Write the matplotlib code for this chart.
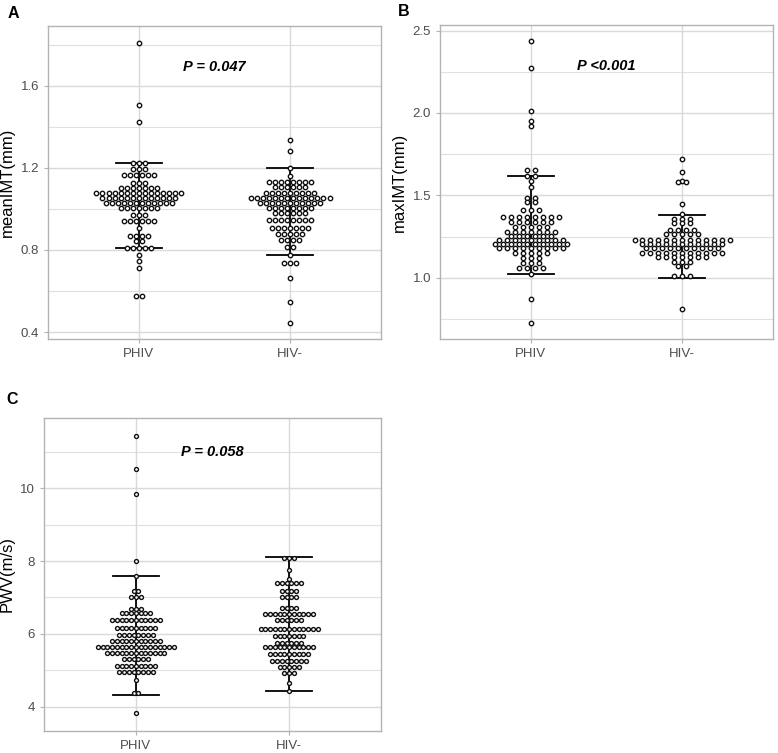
import numpy as np
import matplotlib.pyplot as plt

plt.rcParams["font.family"] = ["Liberation Sans", "DejaVu Sans"]

GROUPS = ["PHIV", "HIV-"]

# Panel A: meanIMT, dot rows (value, number of dots in the row)
A_PHIV_VALUES = [1.81, 1.507, 1.421, 1.223, 1.193, 1.167, 1.128, 1.102, 1.078, 1.054,
                 1.029, 1.005, 0.972, 0.943, 0.906, 0.870, 0.842, 0.811, 0.776, 0.748,
                 0.711, 0.576]
A_PHIV_COUNTS = [1, 1, 1, 3, 3, 6, 3, 7, 15, 13, 12, 7, 3, 6, 1, 4, 2, 5, 1, 1, 1, 2]
A_HIV_VALUES = [1.337, 1.281, 1.2, 1.159, 1.133, 1.106, 1.078, 1.054, 1.029, 1.005,
                0.979, 0.948, 0.907, 0.878, 0.849, 0.813, 0.777, 0.735, 0.663, 0.548, 0.444]
A_HIV_COUNTS = [1, 1, 1, 1, 8, 6, 9, 14, 11, 8, 6, 8, 7, 5, 4, 2, 1, 3, 1, 1, 1]
A_BARS = [(0.811, 1.223), (0.777, 1.2)]

# Panel B: maxIMT
B_PHIV_VALUES = [2.435, 2.275, 2.014, 1.953, 1.921, 1.654, 1.619, 1.587, 1.549, 1.482,
                 1.46, 1.411, 1.37, 1.34, 1.31, 1.279, 1.253, 1.229, 1.202, 1.178,
                 1.148, 1.117, 1.087, 1.057, 1.022, 0.87, 0.725]
B_PHIV_COUNTS = [1, 1, 1, 1, 1, 2, 2, 1, 1, 2, 2, 3, 8, 6, 5, 7, 6, 9, 10, 9, 5, 3, 3,
                 4, 1, 1, 1]
B_HIV_VALUES = [1.721, 1.64, 1.59, 1.578, 1.445, 1.387, 1.356, 1.33, 1.289, 1.263,
                1.229, 1.204, 1.178, 1.148, 1.123, 1.097, 1.071, 1.01, 0.81]
B_HIV_COUNTS = [1, 1, 1, 2, 1, 1, 3, 3, 4, 5, 13, 11, 10, 11, 7, 3, 2, 3, 1]
B_BARS = [(1.022, 1.62), (1.0, 1.38)]

# Panel C: PWV
C_PHIV_VALUES = [11.43, 10.52, 9.84, 8.01, 7.59, 7.19, 7.01, 6.68, 6.57, 6.38, 6.17,
                 5.97, 5.81, 5.65, 5.47, 5.30, 5.13, 4.97, 4.74, 4.39, 3.82]
C_PHIV_COUNTS = [1, 1, 1, 1, 1, 2, 3, 3, 7, 11, 9, 8, 11, 17, 13, 6, 9, 8, 1, 2, 1]
C_HIV_VALUES = [8.09, 7.74, 7.50, 7.39, 7.19, 7.01, 6.70, 6.54, 6.38, 6.13, 5.95, 5.76,
                5.63, 5.44, 5.27, 5.10, 4.92, 4.66, 4.44]
C_HIV_COUNTS = [3, 1, 1, 6, 4, 4, 4, 11, 6, 13, 7, 6, 11, 9, 8, 5, 3, 1, 1]
C_BARS = [(4.34, 7.59), (4.43, 8.11)]

PANELS = [
    dict(letter="A", ylabel="meanIMT(mm)", ptext="P = 0.047", py=1.69,
         ylim=(0.366, 1.891), major=[0.4, 0.8, 1.2, 1.6], minor=[0.6, 1.0, 1.4, 1.8],
         fmt="{:.1f}", rows=[(A_PHIV_VALUES, A_PHIV_COUNTS), (A_HIV_VALUES, A_HIV_COUNTS)],
         bars=A_BARS, pitch=0.040, ms=10,
         rect=[48, 26, 381, 339], lpos=(8, 13)),
    dict(letter="B", ylabel="maxIMT(mm)", ptext="P <0.001", py=2.287,
         ylim=(0.628, 2.534), major=[1.0, 1.5, 2.0, 2.5], minor=[0.75, 1.25, 1.75, 2.25],
         fmt="{:.1f}", rows=[(B_PHIV_VALUES, B_PHIV_COUNTS), (B_HIV_VALUES, B_HIV_COUNTS)],
         bars=B_BARS, pitch=0.0525, ms=10,
         rect=[440, 25, 773, 339], lpos=(398, 11)),
    dict(letter="C", ylabel="PWV(m/s)", ptext="P = 0.058", py=10.98,
         ylim=(3.34, 11.92), major=[4, 6, 8, 10], minor=[5, 7, 9, 11],
         fmt="{:.0f}", rows=[(C_PHIV_VALUES, C_PHIV_COUNTS), (C_HIV_VALUES, C_HIV_COUNTS)],
         bars=C_BARS, pitch=0.031, ms=8,
         rect=[44, 418, 381, 731], lpos=(6, 400)),
]

W, H = 778, 753
fig = plt.figure(figsize=(W / 100, H / 100), dpi=100)

for p in PANELS:
    x0, y0, x1, y1 = p["rect"]
    ax = fig.add_axes([x0 / W, 1 - y1 / H, (x1 - x0) / W, (y1 - y0) / H])
    ax.set_xlim(0.4, 2.6)
    ax.set_ylim(*p["ylim"])

    for y in p["minor"]:
        ax.axhline(y, color="#e0e0e0", lw=0.8, zorder=0)
    for y in p["major"]:
        ax.axhline(y, color="#d9d9d9", lw=1.0, zorder=0)
    for x in (1, 2):
        ax.axvline(x, color="#d9d9d9", lw=1.0, zorder=0)

    for gi, (vals, counts) in enumerate(p["rows"]):
        xc = gi + 1
        xs, ys = [], []
        for v, n in zip(vals, counts):
            offs = (np.arange(n) - (n - 1) / 2) * p["pitch"]
            xs.extend(xc + offs)
            ys.extend([v] * n)
        ax.scatter(xs, ys, s=p["ms"], facecolor="white", edgecolor="#111111",
                   linewidth=1.0, zorder=3)
        lo, hi = p["bars"][gi]
        ax.plot([xc, xc], [lo, hi], color="black", lw=1.3, zorder=2)
        ax.plot([xc - 0.15, xc + 0.15], [lo, lo], color="black", lw=1.3, zorder=2)
        ax.plot([xc - 0.15, xc + 0.15], [hi, hi], color="black", lw=1.3, zorder=2)

    ax.text(1.5, p["py"], p["ptext"], ha="center", va="center", fontsize=10.5,
            fontweight="bold", fontstyle="italic")

    ax.set_xticks([1, 2])
    ax.set_xticklabels(GROUPS)
    ax.set_yticks(p["major"])
    ax.set_yticklabels([p["fmt"].format(v) for v in p["major"]])
    ax.tick_params(colors="#b3b3b3", labelcolor="#4d4d4d", labelsize=9.5, length=3,
                   width=0.8)
    ax.set_ylabel(p["ylabel"], fontsize=12, color="black", labelpad=4)
    for s in ax.spines.values():
        s.set_color("#b3b3b3")
        s.set_linewidth(1.0)

    fig.text(p["lpos"][0] / W, 1 - p["lpos"][1] / H, p["letter"], fontsize=11.5,
             fontweight="bold", ha="left", va="center")

fig.savefig("out.png", dpi=100)
